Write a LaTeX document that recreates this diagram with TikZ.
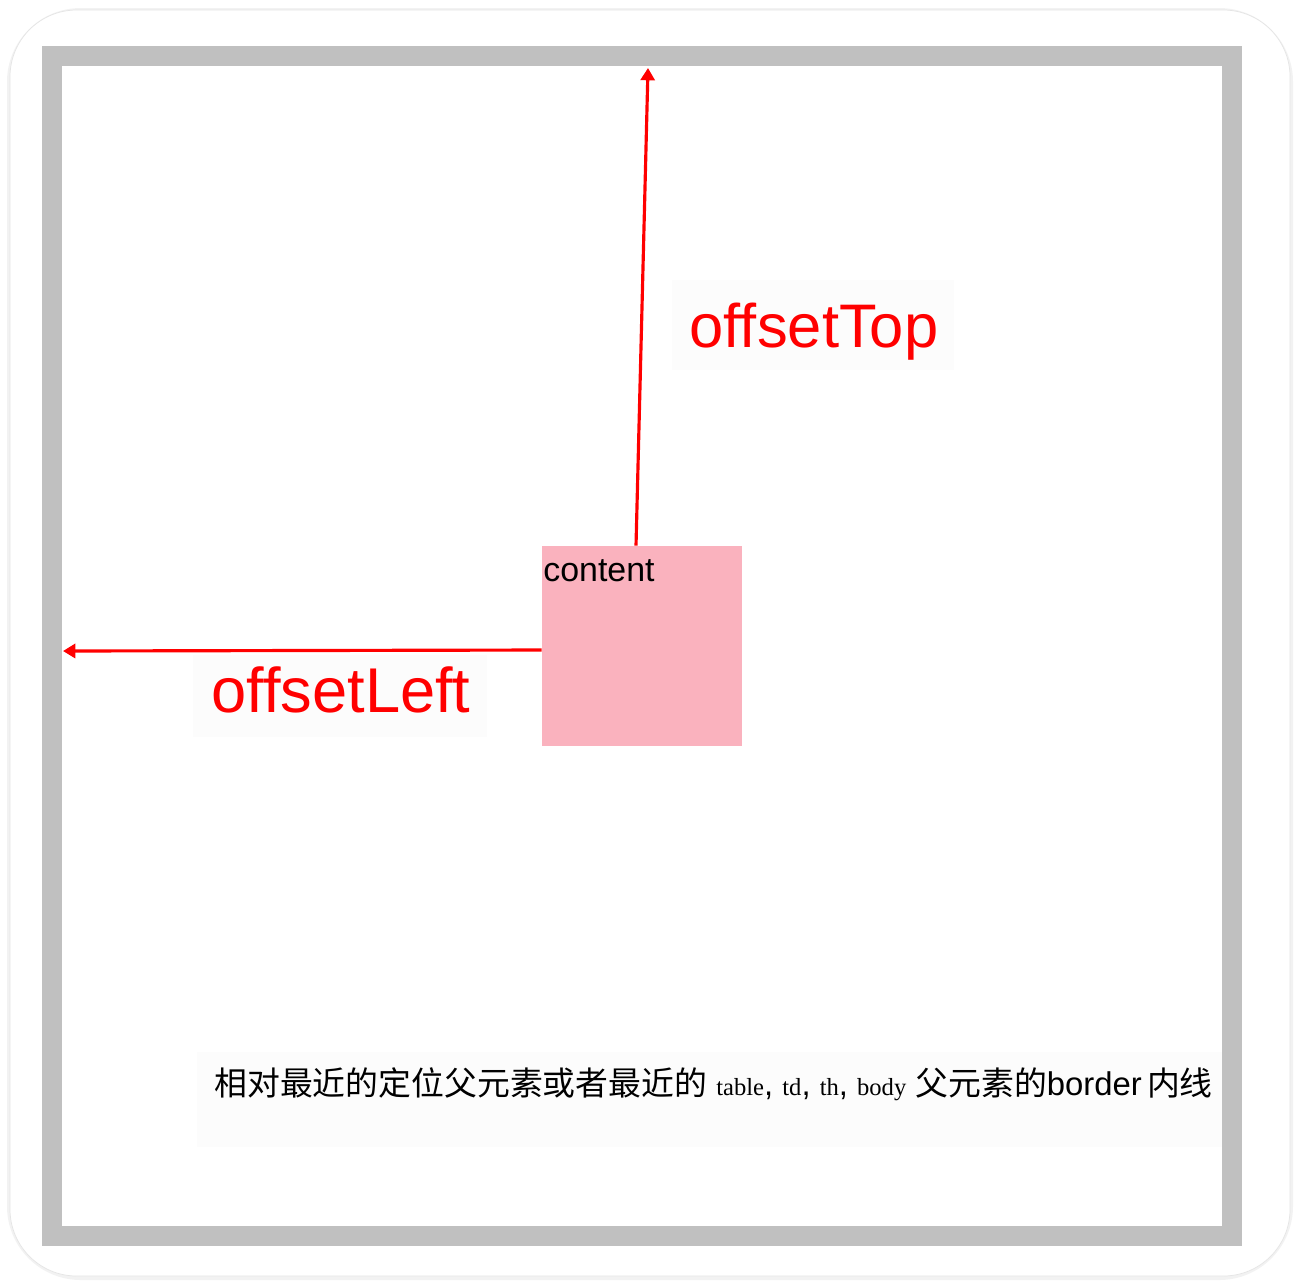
\documentclass[tikz,border=0pt]{standalone}
\usepackage{fontspec}
\setmainfont{Liberation Sans}
\newfontfamily\cjk{Noto Sans CJK SC}
\newfontfamily\serifpart{Liberation Serif}
\usetikzlibrary{arrows.meta}
\usetikzlibrary{positioning}
\definecolor{framegray}{RGB}{192,192,192}
\definecolor{boxpink}{RGB}{250,178,190}
\definecolor{labelbg}{RGB}{252,252,252}
\newcommand{\tagword}[1]{{\serifpart\fontsize{14}{17}\selectfont #1}}

\begin{document}
\begin{tikzpicture}[x=0.02cm,y=-0.02cm,
    offset arrow/.style={draw=red,line width=1.8pt,-{Triangle[length=7pt,width=8pt]}},
    label bg/.style={fill=labelbg,inner sep=0pt},
    label text/.style={text=red,inner sep=0pt,anchor=base,font=\fontsize{35}{40}\selectfont}]
  \useasboundingbox (0,0) rectangle (1300,1286);
  % card behind everything
  \fill[black!5,rounded corners=42] (7,8) rectangle (1293,1280);
  \fill[white,draw=black!10,rounded corners=38] (10,10) rectangle (1290,1276);
  % border of the parent
  \draw[framegray,line width=0.4cm] (52,56) rectangle (1232,1236);
  \coordinate (topend) at (648,68);
  \coordinate (leftend) at (63,651);
  \node[fill=boxpink,minimum size=4cm,inner sep=0pt] (box) at (642,646) {};
  \node[anchor=base west,inner sep=0pt,font=\fontsize{19.3}{23}\selectfont] (boxtext) at (543,581) {content};
  % labels
  \node[label bg,minimum width=5.66cm,minimum height=1.8cm] (topbg) at (813,325) {};
  \node[label text] (toplbl) at (814,347) {offsetTop};
  \node[label bg,minimum width=5.9cm,minimum height=1.64cm] (leftbg) at (340,696) {};
  \node[label text,font=\fontsize{36}{40}\selectfont] (leftlbl) at (341,712) {offsetLeft};
  \node[label bg,minimum width=20.5cm,minimum height=1.9cm] (notebg) at (709.5,1099.5) {};
  \node[anchor=base west,inner sep=0pt,font=\fontsize{18.7}{22}\selectfont] (note) at (214,1095)
    {{\cjk 相对最近的定位父元素或者最近的} \tagword{table}, \tagword{td}, \tagword{th}, \tagword{body} {\cjk 父元素的}border\hspace{3pt}{\cjk 内线}};
  % offsets
  \draw[offset arrow] ([xshift=-0.12cm]box.north) -- (topend);
  \draw[offset arrow] ([yshift=-0.08cm]box.west) -- (leftend);
\end{tikzpicture}
\end{document}
